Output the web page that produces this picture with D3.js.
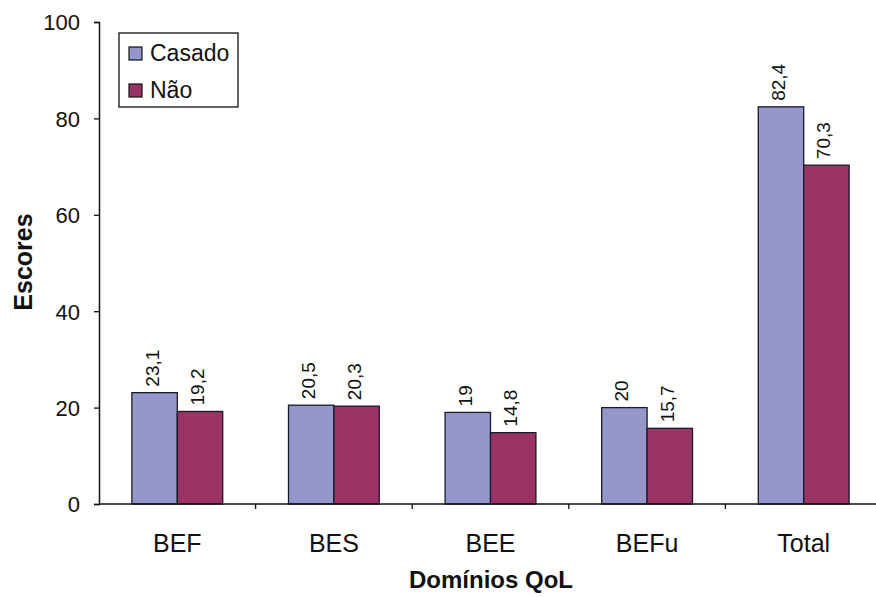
<!DOCTYPE html>
<html>
<head lang="en">
    <meta charset="UTF-8">
    <title>Escores QoL</title>
    <script src="https://d3js.org/d3.v7.min.js"></script>
    <style>
        body { margin: 0; background: #fff; }
        text { font-family: "Liberation Sans", Arial, sans-serif; fill: #111; }
    </style>
</head>
<body>
<svg id="chart" width="876" height="597"></svg>
<script>
    // data
    const CATEGORIES = ["BEF", "BES", "BEE", "BEFu", "Total"];
    const SERIES = ["Casado", "Não"];
    const CASADO = [23.1, 20.5, 19, 20, 82.4];
    const NAO = [19.2, 20.3, 14.8, 15.7, 70.3];
    const Y_TICKS = [0, 20, 40, 60, 80, 100];
    const COLORS = ["#9597cb", "#993366"];

    let svg = d3.select('#chart');
    let margins = {top: 22, left: 99, bottom: 93};
    let height = 597 - margins.top - margins.bottom;

    let xscale = d3.scaleBand().domain(CATEGORIES).range([0, 783]).paddingInner(0).paddingOuter(0);
    let sub = d3.scaleBand().domain(SERIES).range([xscale.bandwidth() * 0.21, xscale.bandwidth() * 0.79]);
    let yscale = d3.scaleLinear().domain([0, 100]).range([height, 0]);

    let g = svg.append('g').attr('transform', `translate(${margins.left},${margins.top})`);

    let fmt = v => String(v).replace('.', ',');

    let rows = CATEGORIES.map((c, i) => ({cat: c, vals: [CASADO[i], NAO[i]]}));

    let groups = g.selectAll('.grp').data(rows).enter().append('g')
        .attr('class', 'grp')
        .attr('transform', d => `translate(${xscale(d.cat)},0)`);

    groups.selectAll('rect')
        .data(d => d.vals.map((v, j) => ({s: SERIES[j], v: v, j: j})))
        .enter().append('rect')
        .attr('x', d => sub(d.s))
        .attr('y', d => yscale(d.v))
        .attr('width', sub.bandwidth())
        .attr('height', d => height - yscale(d.v))
        .attr('fill', d => COLORS[d.j])
        .attr('stroke', '#1a1a2a')
        .attr('stroke-width', 1.3);

    groups.selectAll('.lbl')
        .data(d => d.vals.map((v, j) => ({s: SERIES[j], v: v})))
        .enter().append('text')
        .attr('class', 'lbl')
        .attr('transform', d => `translate(${sub(d.s) + sub.bandwidth() / 2 + 4},${yscale(d.v) - 6}) rotate(-90)`)
        .attr('font-size', 19)
        .text(d => fmt(d.v));

    //y axis
    let yaxis = g.append('g')
        .call(d3.axisLeft(yscale).tickValues(Y_TICKS).tickSize(5).tickPadding(14));
    yaxis.select('.domain').attr('stroke', '#111').attr('stroke-width', 1.5);
    yaxis.selectAll('.tick line').attr('stroke', '#111').attr('stroke-width', 1.3);
    yaxis.selectAll('text').attr('font-size', 22).attr('dy', '0.36em')
        .style('font-family', '"Liberation Sans", Arial, sans-serif').attr('fill', '#111');

    //x axis
    let xaxis = g.append('g').attr('transform', `translate(0,${height})`);
    xaxis.append('line').attr('x1', 0).attr('x2', 783).attr('stroke', '#111').attr('stroke-width', 1.5);
    xaxis.selectAll('.xt').data(CATEGORIES.slice(1)).enter().append('line')
        .attr('x1', d => xscale(d)).attr('x2', d => xscale(d))
        .attr('y1', 0).attr('y2', 5).attr('stroke', '#111').attr('stroke-width', 1.3);
    xaxis.selectAll('.xl').data(CATEGORIES).enter().append('text')
        .attr('x', d => xscale(d) + xscale.bandwidth() / 2)
        .attr('y', 48)
        .attr('text-anchor', 'middle')
        .attr('font-size', 25)
        .text(d => d);

    // axis titles
    svg.append('text')
        .attr('transform', 'translate(32,262) rotate(-90)')
        .attr('text-anchor', 'middle')
        .attr('font-size', 25).attr('font-weight', 'bold')
        .text('Escores');
    svg.append('text')
        .attr('x', 491).attr('y', 588)
        .attr('text-anchor', 'middle')
        .attr('font-size', 24).attr('font-weight', 'bold')
        .text('Domínios QoL');

    // legend
    let leg = svg.append('g').attr('transform', 'translate(119,33)');
    leg.append('rect').attr('width', 119).attr('height', 74)
        .attr('fill', '#fff').attr('stroke', '#111').attr('stroke-width', 1.3);
    let items = leg.selectAll('.li').data(SERIES).enter().append('g')
        .attr('transform', (d, i) => `translate(10,${14 + i * 37})`);
    items.append('rect').attr('width', 13).attr('height', 13)
        .attr('fill', (d, i) => COLORS[i]).attr('stroke', '#111').attr('stroke-width', 1.2);
    items.append('text').attr('x', 21).attr('y', 14).attr('font-size', 23).text(d => d);
</script>
</body>
</html>
